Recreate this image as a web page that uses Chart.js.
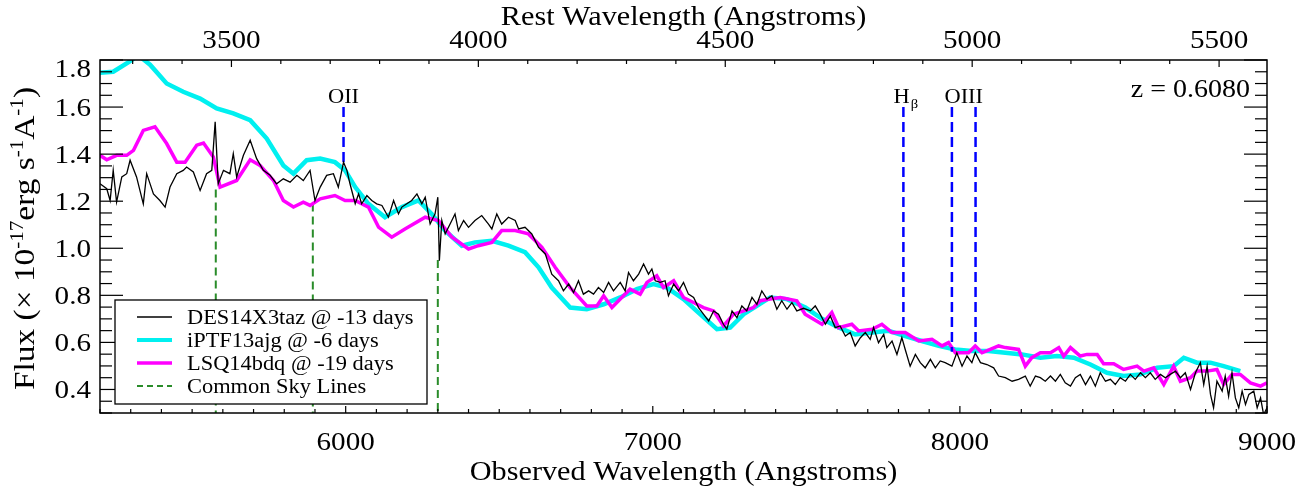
<!DOCTYPE html>
<html lang="en">
<head>
<meta charset="UTF-8">
<title>DES14X3taz - espectro comparado</title>
<script src="https://cdn.jsdelivr.net/npm/chart.js@4.4.1/dist/chart.umd.min.js"></script>
<style>
  html, body { margin: 0; padding: 0; background: #fff; }
  .wrap { position: relative; width: 1314px; height: 491px; }
</style>
</head>
<body>
<div class="wrap"><canvas id="espectro"></canvas></div>
<script>
// redshift and axis limits
const z = 0.6080;
const xMin = 5200, xMax = 9000;
const yMin = 0.3, yMax = 1.8;

// tick labels
const xTicks = [6000, 7000, 8000, 9000];
const restTicks = [3500, 4000, 4500, 5000, 5500];
const yTicks = [0.4, 0.6, 0.8, 1.0, 1.2, 1.4, 1.6, 1.8];

// DES14X3taz @ -13 days (black)
const desWave = [5200,5222,5233,5243,5254,5271,5287,5298,5319,5341,5352,5374,5395,5412,5428,5450,5471,5482,5504,5526,
  5547,5564,5575,5585,5602,5623,5634,5645,5667,5689,5710,5732,5754,5775,5797,5819,5841,5862,5884,5900,
  5917,5938,5960,5976,5993,6004,6014,6031,6042,6052,6069,6085,6101,6118,6139,6156,6172,6183,6199,6215,
  6232,6248,6259,6275,6291,6300,6305,6313,6324,6340,6356,6367,6384,6400,6421,6443,6465,6476,6492,6508,
  6530,6552,6563,6584,6606,6628,6650,6671,6693,6709,6726,6742,6758,6774,6791,6807,6823,6840,6856,6872,
  6894,6910,6921,6937,6954,6970,6986,6997,7008,7024,7040,7051,7068,7084,7100,7116,7133,7149,7165,7182,
  7198,7214,7230,7241,7258,7274,7290,7306,7323,7339,7355,7372,7388,7404,7420,7437,7453,7469,7491,7513,
  7529,7545,7562,7578,7594,7610,7627,7643,7659,7676,7692,7708,7719,7735,7752,7762,7779,7795,7811,7822,
  7838,7855,7871,7887,7904,7920,7936,7952,7974,7990,8007,8023,8039,8050,8067,8088,8110,8126,8148,8170,
  8191,8213,8229,8246,8262,8278,8295,8311,8327,8343,8360,8376,8392,8409,8425,8441,8457,8474,8490,8506,
  8522,8539,8555,8571,8588,8604,8620,8636,8653,8669,8685,8702,8718,8734,8751,8767,8783,8794,8805,8816,
  8826,8837,8854,8864,8875,8886,8897,8908,8919,8930,8941,8957,8968,8979,8989,9000];
const desFlux = [1.274,1.253,1.203,1.331,1.196,1.303,1.317,1.374,1.303,1.189,1.317,1.231,1.203,1.175,1.260,1.317,1.331,1.345,1.324,1.246,
  1.317,1.331,1.537,1.274,1.331,1.317,1.402,1.303,1.395,1.459,1.381,1.331,1.310,1.274,1.295,1.281,1.310,1.288,1.331,1.203,
  1.260,1.310,1.317,1.260,1.366,1.331,1.274,1.189,1.231,1.189,1.224,1.203,1.189,1.182,1.132,1.203,1.146,1.175,1.189,1.203,
  1.231,1.189,1.217,1.103,1.146,1.217,0.947,1.118,1.061,1.103,1.146,1.075,1.118,1.089,1.118,1.139,1.103,1.082,1.146,1.103,
  1.132,1.118,1.082,1.089,1.061,1.004,0.976,0.890,0.862,0.819,0.848,0.812,0.862,0.805,0.819,0.805,0.833,0.812,0.855,0.819,
  0.855,0.819,0.897,0.862,0.890,0.933,0.890,0.912,0.862,0.855,0.862,0.798,0.848,0.819,0.855,0.805,0.791,0.748,0.720,0.691,
  0.734,0.720,0.677,0.656,0.734,0.705,0.755,0.734,0.791,0.762,0.819,0.784,0.798,0.741,0.777,0.741,0.769,0.734,0.745,0.734,
  0.755,0.720,0.677,0.712,0.663,0.670,0.627,0.642,0.585,0.620,0.642,0.613,0.663,0.599,0.634,0.578,0.606,0.549,0.620,0.570,
  0.499,0.549,0.514,0.492,0.528,0.492,0.521,0.514,0.499,0.556,0.499,0.542,0.514,0.556,0.514,0.506,0.492,0.457,0.450,0.435,
  0.443,0.457,0.414,0.457,0.450,0.435,0.457,0.435,0.464,0.428,0.414,0.450,0.464,0.421,0.457,0.414,0.471,0.435,0.443,0.421,
  0.450,0.435,0.464,0.443,0.471,0.450,0.471,0.443,0.464,0.450,0.464,0.478,0.450,0.471,0.400,0.471,0.514,0.421,0.499,0.379,
  0.322,0.435,0.393,0.457,0.371,0.471,0.364,0.322,0.393,0.336,0.379,0.393,0.322,0.364,0.293,0.322];

// iPTF13ajg @ -6 days (cyan)
const ptfWave = [5200,5243,5292,5325,5363,5417,5471,5526,5580,5634,5689,5743,5797,5830,5873,5917,5965,5998,6031,6074,
  6128,6183,6237,6280,6324,6378,6421,6476,6530,6584,6628,6671,6731,6785,6840,6894,6948,7002,7046,7100,
  7154,7209,7252,7296,7339,7382,7437,7497,7551,7605,7659,7714,7768,7822,7876,7931,7985,8039,8093,8148,
  8202,8262,8316,8371,8425,8479,8533,8588,8642,8696,8729,8772,8816,8859,8913];
const ptfFlux = [1.746,1.750,1.790,1.820,1.780,1.700,1.665,1.636,1.594,1.573,1.544,1.466,1.352,1.317,1.374,1.381,1.366,1.331,1.260,1.189,
  1.132,1.175,1.203,1.146,1.075,1.011,1.025,1.032,1.011,0.983,0.919,0.833,0.748,0.741,0.762,0.791,0.826,0.848,0.833,0.784,
  0.720,0.656,0.663,0.720,0.755,0.791,0.784,0.748,0.700,0.663,0.634,0.642,0.649,0.627,0.606,0.585,0.570,0.563,0.563,0.556,
  0.549,0.535,0.542,0.535,0.506,0.471,0.457,0.464,0.492,0.499,0.535,0.514,0.514,0.499,0.478];

// LSQ14bdq @ -19 days (magenta)
const lsqWave = [5200,5222,5254,5287,5309,5341,5379,5417,5450,5477,5515,5537,5569,5591,5645,5689,5721,5765,5797,5830,
  5862,5884,5917,5965,5998,6031,6074,6107,6150,6193,6259,6302,6346,6400,6432,6476,6508,6552,6595,6639,
  6682,6731,6785,6818,6840,6867,6894,6926,6959,6981,7013,7035,7068,7100,7144,7165,7198,7230,7263,7296,
  7328,7350,7382,7415,7469,7496,7551,7583,7605,7648,7670,7714,7746,7779,7822,7866,7909,7942,7963,7985,
  8028,8050,8072,8126,8148,8191,8213,8234,8262,8295,8322,8338,8360,8392,8414,8447,8468,8501,8533,8577,
  8599,8631,8664,8696,8718,8751,8772,8805,8837,8859,8886,8913,8946,8979,9000];
const lsqFlux = [1.395,1.376,1.395,1.395,1.416,1.501,1.516,1.445,1.366,1.366,1.438,1.447,1.388,1.260,1.288,1.376,1.352,1.288,1.203,1.175,
  1.196,1.182,1.210,1.224,1.203,1.203,1.175,1.090,1.047,1.082,1.132,1.118,1.047,0.997,1.011,1.025,1.075,1.075,1.061,1.004,
  0.919,0.833,0.755,0.755,0.798,0.748,0.784,0.826,0.805,0.855,0.883,0.833,0.862,0.791,0.762,0.748,0.734,0.670,0.720,0.734,
  0.748,0.777,0.784,0.791,0.777,0.720,0.677,0.727,0.663,0.677,0.649,0.656,0.677,0.642,0.642,0.606,0.613,0.585,0.599,0.556,
  0.556,0.585,0.556,0.585,0.578,0.570,0.499,0.535,0.556,0.556,0.578,0.542,0.578,0.542,0.549,0.549,0.509,0.509,0.485,0.499,
  0.478,0.492,0.421,0.499,0.435,0.450,0.478,0.478,0.485,0.421,0.464,0.464,0.428,0.414,0.428];

// host galaxy lines (observed wavelength) and common sky lines
const emissionWave = [5993, 7816, 7974, 8051];
const emissionTop = [1.6, 1.6, 1.6, 1.6];
const emissionBottom = [1.36, 0.66, 0.56, 0.58];
const skyWave = [5577, 5893, 6300];
const skyTop = [1.25, 1.19, 0.95];

const serif = '"Liberation Serif", "DejaVu Serif", serif';
const stretch = 1.12;

function pares(xs, ys) {
    return xs.map((x, i) => ({ x: x, y: ys[i] }));
}

function verticais(xs, tops, bottoms) {
    let pts = [];
    xs.forEach((x, i) => {
        pts.push({ x: x, y: tops[i] });
        pts.push({ x: x, y: bottoms[i] });
        pts.push({ x: x, y: null });
    });
    return pts;
}

function texto(ctx, s, x, y, size, align) {
    ctx.save();
    ctx.font = size + 'px ' + serif;
    ctx.fillStyle = '#000';
    ctx.textAlign = 'left';
    ctx.textBaseline = 'alphabetic';
    const w = ctx.measureText(s).width * stretch;
    let x0 = x;
    if (align === 'center') x0 = x - w / 2;
    if (align === 'right') x0 = x - w;
    ctx.translate(x0, y);
    ctx.scale(stretch, 1);
    ctx.fillText(s, 0, 0);
    ctx.restore();
    return w;
}

function linha(ctx, x1, y1, x2, y2) {
    ctx.beginPath();
    ctx.moveTo(x1, y1);
    ctx.lineTo(x2, y2);
    ctx.stroke();
}

const decor = {
    id: 'decor',
    afterDraw(chart) {
        const ctx = chart.ctx;
        const a = chart.chartArea;
        const xs = chart.scales.x, xr = chart.scales.xRest, ys = chart.scales.y;
        ctx.save();
        ctx.strokeStyle = '#000';
        ctx.lineWidth = 1.5;
        ctx.strokeRect(a.left, a.top, a.right - a.left, a.bottom - a.top);

        // inward ticks
        ctx.lineWidth = 1.2;
        for (let w = xMin; w <= xMax; w += 100) {
            const p = xs.getPixelForValue(w);
            linha(ctx, p, a.bottom, p, a.bottom - (w % 1000 === 0 ? 7 : 4));
        }
        for (let r = 3300; r <= 5500; r += 100) {
            const p = xr.getPixelForValue(r);
            linha(ctx, p, a.top, p, a.top + (r % 500 === 0 ? 7 : 4));
        }
        for (let i = 0; i <= 30; i++) {
            const v = yMin + i * 0.05;
            const p = ys.getPixelForValue(v);
            const major = Math.abs(v * 5 - Math.round(v * 5)) < 1e-6;
            const len = major ? 23 : 12;
            linha(ctx, a.left, p, a.left + len, p);
            linha(ctx, a.right, p, a.right - len, p);
        }

        // tick labels
        xTicks.forEach(v => texto(ctx, String(v), xs.getPixelForValue(v), a.bottom + 37, 26, 'center'));
        restTicks.forEach(v => texto(ctx, String(v), xr.getPixelForValue(v), a.top - 12, 26, 'center'));
        yTicks.forEach(v => {
            const p = ys.getPixelForValue(v);
            texto(ctx, v.toFixed(1), a.left - 9, Math.max(p + 9, a.top + 17), 26, 'right');
        });

        // axis titles
        const cx = (a.left + a.right) / 2;
        texto(ctx, 'Observed Wavelength (Angstroms)', cx, a.bottom + 67, 27, 'center');
        texto(ctx, 'Rest Wavelength (Angstroms)', cx, a.top - 35, 27, 'center');

        // y title with superscripts
        const partes = [['Flux (\u00d7 10', 0], ['-17', 1], ['erg s', 0], ['-1', 1], ['A', 0], ['-1', 1], [')', 0]];
        const big = 27, small = 17;
        let total = 0;
        partes.forEach(p => {
            ctx.font = (p[1] ? small : big) + 'px ' + serif;
            total += ctx.measureText(p[0]).width;
        });
        const k = 303 / total;
        ctx.save();
        ctx.translate(34, (a.top + a.bottom) / 2 + 2);
        ctx.rotate(-Math.PI / 2);
        ctx.scale(k, 1.1);
        ctx.fillStyle = '#000';
        ctx.textBaseline = 'alphabetic';
        let pos = -total / 2;
        partes.forEach(p => {
            ctx.font = (p[1] ? small : big) + 'px ' + serif;
            ctx.fillText(p[0], pos, p[1] ? -10 : 0);
            pos += ctx.measureText(p[0]).width;
        });
        ctx.restore();

        // line labels
        const yLab = ys.getPixelForValue(1.6) - 4;
        texto(ctx, 'OII', xs.getPixelForValue(emissionWave[0]), yLab, 20, 'center');
        ctx.font = '20px ' + serif;
        const wH = ctx.measureText('H').width * stretch;
        ctx.font = '13px ' + serif;
        const wB = ctx.measureText('\u03b2').width * stretch;
        const hx = xs.getPixelForValue(emissionWave[1]) - (wH + wB) / 2 + 2;
        texto(ctx, 'H', hx, yLab, 20, 'left');
        texto(ctx, '\u03b2', hx + wH + 1, yLab + 5, 13, 'left');
        const ox = (xs.getPixelForValue(emissionWave[2]) + xs.getPixelForValue(emissionWave[3])) / 2;
        texto(ctx, 'OIII', ox, yLab, 20, 'center');

        texto(ctx, 'z = ' + z.toFixed(4), a.right - 17, a.top + 37, 25, 'right');

        // legend
        const lx = 115, ly = 300, lw = 312, lh = 104;
        ctx.fillStyle = '#fff';
        ctx.fillRect(lx, ly, lw, lh);
        ctx.strokeStyle = '#000';
        ctx.lineWidth = 1.3;
        ctx.strokeRect(lx, ly, lw, lh);
        const itens = [
            ['DES14X3taz @ -13 days', '#000000', 1.6, []],
            ['iPTF13ajg @ -6 days', '#00f0f0', 4, []],
            ['LSQ14bdq @ -19 days', '#ff00ff', 3.5, []],
            ['Common Sky Lines', '#2a8c2a', 2, [6, 4]]
        ];
        itens.forEach((it, i) => {
            const yy = ly + 17 + i * 23;
            ctx.strokeStyle = it[1];
            ctx.lineWidth = it[2];
            ctx.setLineDash(it[3]);
            linha(ctx, lx + 22, yy, lx + 57, yy);
            ctx.setLineDash([]);
            texto(ctx, it[0], lx + 72, yy + 7, 20, 'left');
        });
        ctx.restore();
    }
};

const ctxGraf = document.getElementById('espectro');

new Chart(ctxGraf, {
    type: 'line',
    data: {
        datasets: [
            { label: 'DES14X3taz @ -13 days', data: pares(desWave, desFlux), borderColor: '#000000', borderWidth: 1.3 },
            { label: 'Galaxy lines', data: verticais(emissionWave, emissionTop, emissionBottom), borderColor: '#0000ff', borderWidth: 2.5, borderDash: [10, 5], spanGaps: false },
            { label: 'LSQ14bdq @ -19 days', data: pares(lsqWave, lsqFlux), borderColor: '#ff00ff', borderWidth: 3.5 },
            { label: 'iPTF13ajg @ -6 days', data: pares(ptfWave, ptfFlux), borderColor: '#00f0f0', borderWidth: 4.5 },
            { label: 'Common Sky Lines', data: verticais(skyWave, skyTop, skyWave.map(() => yMin)), borderColor: '#2a8c2a', borderWidth: 2, borderDash: [8, 5], spanGaps: false }
        ].map(d => Object.assign({ pointRadius: 0, tension: 0, fill: false, clip: 0 }, d))
    },
    options: {
        responsive: true,
        maintainAspectRatio: false,
        animation: false,
        events: [],
        layout: { padding: { left: 0, right: 47, top: 0, bottom: 0 } },
        plugins: { legend: { display: false }, tooltip: { enabled: false } },
        scales: {
            x: {
                type: 'linear', position: 'bottom', min: xMin, max: xMax,
                afterFit: s => { s.height = 78; },
                ticks: { display: false }, grid: { display: false, drawTicks: false }, border: { display: false }
            },
            xRest: {
                type: 'linear', axis: 'x', position: 'top', min: xMin / (1 + z), max: xMax / (1 + z),
                afterFit: s => { s.height = 60; },
                ticks: { display: false }, grid: { display: false, drawTicks: false }, border: { display: false }
            },
            y: {
                type: 'linear', min: yMin, max: yMax,
                afterFit: s => { s.width = 100; },
                ticks: { display: false }, grid: { display: false, drawTicks: false }, border: { display: false }
            }
        }
    },
    plugins: [decor]
});
</script>
</body>
</html>
